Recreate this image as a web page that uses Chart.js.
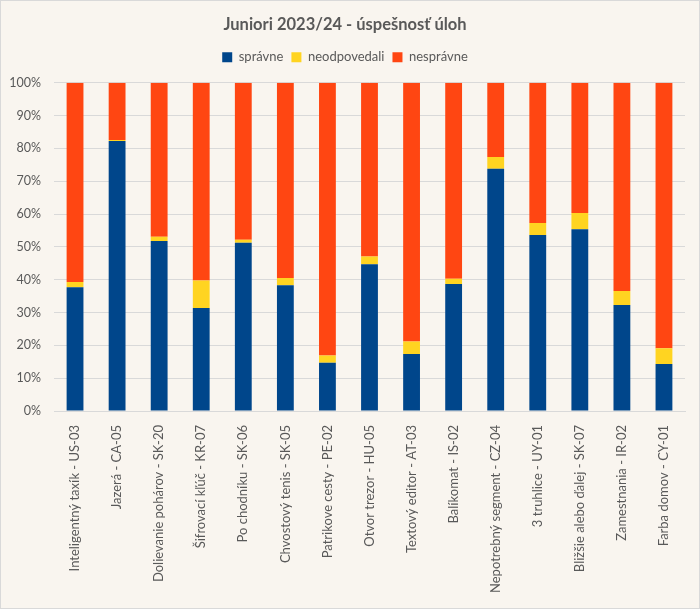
<!DOCTYPE html>
<html><head><meta charset="utf-8">
<script src="https://cdn.jsdelivr.net/npm/chart.js@4"></script>
<style>
html,body{margin:0;padding:0;background:#F9F5EF;}
#wrap{position:absolute;left:0;top:0;width:700px;height:609px;box-sizing:border-box;border:1px solid #D9D9D9;background:#F9F5EF;}
canvas{display:block;}
</style></head><body>
<div id="wrap"><canvas id="c" width="698" height="607"></canvas></div>
<script>
const categories = ["Inteligentný taxík - US-03","Jazerá - CA-05","Dolievanie pohárov - SK-20","Šifrovací kľúč - KR-07","Po chodníku - SK-06","Chvostový tenis - SK-05","Patrikove cesty - PE-02","Otvor trezor - HU-05","Textový editor - AT-03","Balíkomat - IS-02","Nepotrebný segment - CZ-04","3 truhlice - UY-01","Bližšie alebo ďalej - SK-07","Zamestnania - IR-02","Farba domov - CY-01"];
const spravne = [37.7,82.3,51.8,31.4,51.3,38.3,14.7,44.7,17.4,38.7,73.8,53.6,55.4,32.3,14.3];
const neodpovedali = [1.6,0.3,1.3,8.4,0.9,2.2,2.2,2.4,3.8,1.6,3.6,3.7,4.9,4.3,4.8];
const nespravne = [60.7,17.4,46.9,60.2,47.8,59.5,83.1,52.9,78.8,59.7,22.6,42.7,39.7,63.4,80.9];
const yTicks = [0,10,20,30,40,50,60,70,80,90,100];

const FONT = "Lato, 'Open Sans', sans-serif";
const GRAY = "#595959";
const legendSpace = {
  id:'legendSpace',
  beforeLayout(chart){
    const lg = chart.legend;
    if(lg && !lg._patched){
      const f = lg.fit.bind(lg);
      lg.fit = function(){ f(); this.height += 9; };
      lg._patched = true;
    }
  }
};
new Chart(document.getElementById('c'), {
  type: 'bar',
  plugins:[legendSpace],
  data: {
    labels: categories,
    datasets: [
      {label:'správne', data: spravne, backgroundColor:'#00468B', borderWidth:0},
      {label:'neodpovedali', data: neodpovedali, backgroundColor:'#FFD421', borderWidth:0},
      {label:'nesprávne', data: nespravne, backgroundColor:'#FF4612', borderWidth:0}
    ]
  },
  options: {
    responsive:false, animation:false,
    layout:{padding:{left:4,right:14,top:8,bottom:4}},
    datasets:{bar:{categoryPercentage:1.0, barPercentage:0.4}},
    plugins:{
      title:{display:true,text:'Juniori 2023/24 - úspešnosť úloh',color:GRAY,
        font:{family:FONT,size:16.5,weight:'bold'},padding:{top:6,bottom:8}},
      legend:{display:true,position:'top',
        labels:{color:GRAY,font:{family:FONT,size:13},boxWidth:10,boxHeight:10,padding:8},
      },
      tooltip:{enabled:false}
    },
    scales:{
      x:{stacked:true,
        grid:{display:false},
        border:{display:true,color:'#D9D9D9'},
        ticks:{color:GRAY,font:{family:FONT,size:13},maxRotation:90,minRotation:90,autoSkip:false,padding:6},
        afterFit:(s)=>{s.height=193;}
      },
      y:{stacked:true,min:0,max:100,
        afterBuildTicks:(s)=>{s.ticks = yTicks.map(v=>({value:v}));},
        grid:{color:'#D9D9D9',drawTicks:false},
        border:{display:false},
        ticks:{color:GRAY,font:{family:FONT,size:12.5},padding:13,callback:(v)=>v+'%'},
        afterFit:(s)=>{s.width=49;}
      }
    }
  }
});
</script></body></html>
